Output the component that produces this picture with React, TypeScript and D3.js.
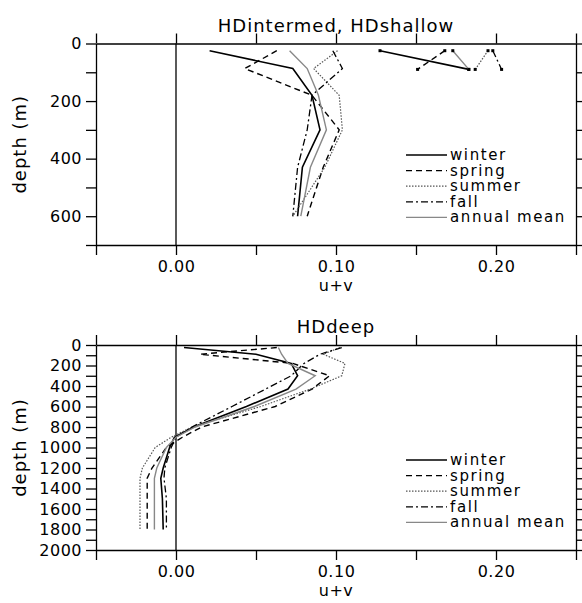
import React, { useEffect, useRef } from "react";
import * as d3 from "d3";

// series names and their drawing order
const seasons = ["winter", "spring", "summer", "fall", "annual mean"];

// HDintermed (top panel)
const intermedDepths = [25, 87, 180, 300, 430, 600];
const intermedWinter = [0.021, 0.073, 0.085, 0.09, 0.079, 0.076];
const intermedSpring = [0.063, 0.043, 0.085, 0.102, 0.092, 0.082];
const intermedSummer = [0.101, 0.086, 0.102, 0.104, 0.093, 0.073];
const intermedFall = [0.098, 0.104, 0.085, 0.082, 0.076, 0.073];
const intermedMean = [0.071, 0.082, 0.089, 0.094, 0.084, 0.078];

// HDshallow (top panel, with markers)
const shallowDepths = [25, 90];
const shallowWinter = [0.1275, 0.183];
const shallowSpring = [0.168, 0.151];
const shallowSummer = [0.195, 0.187];
const shallowFall = [0.198, 0.2035];
const shallowMean = [0.173, 0.183];

// HDdeep (bottom panel)
const deepDepths = [25, 90, 180, 300, 430, 600, 800, 900, 1000, 1200, 1300, 1500, 1800];
const deepWinter = [0.005, 0.05, 0.072, 0.076, 0.07, 0.044, 0.011, -0.001, -0.004, -0.008, -0.0095, -0.0085, -0.008];
const deepSpring = [0.063, 0.015, 0.073, 0.096, 0.085, 0.062, 0.016, 0.004, -0.006, -0.015, -0.018, -0.018, -0.018];
const deepSummer = [0.1025, 0.092, 0.1056, 0.1036, 0.084, 0.053, 0.01, -0.003, -0.013, -0.021, -0.0225, -0.0225, -0.0225];
const deepFall = [0.1036, 0.09, 0.08, 0.072, 0.056, 0.035, 0.01, 0.0, -0.003, -0.007, -0.0075, -0.006, -0.006];
const deepMean = [0.064, 0.066, 0.07, 0.087, 0.075, 0.049, 0.012, 0.0, -0.006, -0.012, -0.0135, -0.0135, -0.0135];

const xTicks = [-0.05, 0.0, 0.05, 0.1, 0.15, 0.2, 0.25];
const xLabelled = [0.0, 0.1, 0.2];

const styles = {
  winter: { stroke: "#000", width: 1.6, dash: null },
  spring: { stroke: "#000", width: 1.4, dash: "6,4" },
  summer: { stroke: "#555", width: 1.2, dash: "1.5,1.5" },
  fall: { stroke: "#000", width: 1.3, dash: "7,3,2,3" },
  "annual mean": { stroke: "#888", width: 1.4, dash: null },
};

const FONT = "'DejaVu Sans', sans-serif";

const App = () => {
  const ref = useRef(null);

  useEffect(() => {
    const svg = d3.select(ref.current);
    svg.selectAll("*").remove();

    const x = d3.scaleLinear().domain([-0.05, 0.25]).range([96, 576]);

    const drawPanel = (opts) => {
      const { top, bottom, maxDepth, title, groups } = opts;
      const y = d3.scaleLinear().domain([0, maxDepth]).range([top, bottom]);
      const g = svg.append("g");
      const fmt = d3.format(".2f");
      const isLab = (v) => xLabelled.some((l) => Math.abs(l - v) < 1e-9);
      const yTicks = d3.range(0, maxDepth + 1, 100);

      const axisStyle = (sel) => {
        sel.selectAll("path,line").attr("stroke", "#000").attr("stroke-width", 1.3);
        sel.selectAll("text").attr("font-family", FONT).attr("font-size", 16).attr("fill", "#000").style("letter-spacing", "0.5px");
      };

      g.append("g")
        .attr("transform", `translate(0,${bottom})`)
        .call(d3.axisBottom(x).tickValues(xTicks).tickSize(10).tickSizeOuter(0).tickPadding(6)
          .tickFormat((d) => (isLab(d) ? fmt(d) : "")))
        .call(axisStyle);
      g.append("g")
        .attr("transform", `translate(0,${top})`)
        .call(d3.axisTop(x).tickValues(xTicks).tickSize(10).tickSizeOuter(0).tickFormat(() => ""))
        .call(axisStyle);
      g.append("g")
        .attr("transform", `translate(96,0)`)
        .call(d3.axisLeft(y).tickValues(yTicks).tickSize(10).tickSizeOuter(0).tickPadding(4)
          .tickFormat((d) => (d % 200 === 0 ? String(d) : "")))
        .call(axisStyle);
      g.append("g")
        .attr("transform", `translate(576,0)`)
        .call(d3.axisRight(y).tickValues(yTicks).tickSize(10).tickSizeOuter(0).tickFormat(() => ""))
        .call(axisStyle);

      // zero line
      g.append("line")
        .attr("x1", x(0)).attr("x2", x(0))
        .attr("y1", top).attr("y2", bottom)
        .attr("stroke", "#000").attr("stroke-width", 1.3);

      // titles and labels
      g.append("text").attr("x", 336).attr("y", top - 12).attr("text-anchor", "middle")
        .attr("font-family", FONT).attr("font-size", 18).style("letter-spacing", "1px").text(title);
      g.append("text").attr("x", 336).attr("y", bottom + 46).attr("text-anchor", "middle")
        .attr("font-family", FONT).attr("font-size", 16).style("letter-spacing", "0.5px").text("u+v");
      g.append("text")
        .attr("transform", `translate(26,${(top + bottom) / 2}) rotate(-90)`)
        .attr("text-anchor", "middle")
        .attr("font-family", FONT).attr("font-size", 18).style("letter-spacing", "1px").text("depth (m)");

      const line = d3.line().x((d) => x(d[0])).y((d) => y(d[1]));
      groups.forEach(({ depths, series, mark }) => {
        seasons.forEach((s, i) => {
          const st = styles[s];
          const pts = series[i].map((v, j) => [v, depths[j]]);
          g.append("path")
            .datum(pts)
            .attr("d", line)
            .attr("fill", "none")
            .attr("stroke", st.stroke)
            .attr("stroke-width", st.width)
            .attr("stroke-dasharray", st.dash);
          if (mark) {
            g.selectAll(null)
              .data(pts)
              .join("rect")
              .attr("x", (d) => x(d[0]) - 1.5)
              .attr("y", (d) => y(d[1]) - 1.5)
              .attr("width", 3)
              .attr("height", 3)
              .attr("fill", "#000");
          }
        });
      });

      // legend
      const lx = 406;
      const ly = bottom - 90;
      seasons.forEach((s, i) => {
        const st = styles[s];
        const yy = ly + i * 15.6;
        g.append("line")
          .attr("x1", lx).attr("x2", lx + 41)
          .attr("y1", yy).attr("y2", yy)
          .attr("stroke", st.stroke)
          .attr("stroke-width", st.width)
          .attr("stroke-dasharray", st.dash);
        g.append("text")
          .attr("x", lx + 44).attr("y", yy + 5)
          .attr("font-family", FONT).attr("font-size", 15)
          .style("letter-spacing", "1.6px")
          .text(s);
      });
    };

    drawPanel({
      top: 43.5,
      bottom: 245,
      maxDepth: 700,
      title: "HDintermed, HDshallow",
      groups: [
        { depths: intermedDepths, series: [intermedWinter, intermedSpring, intermedSummer, intermedFall, intermedMean], mark: false },
        { depths: shallowDepths, series: [shallowWinter, shallowSpring, shallowSummer, shallowFall, shallowMean], mark: true },
      ],
    });
    drawPanel({
      top: 345,
      bottom: 550,
      maxDepth: 2000,
      title: "HDdeep",
      groups: [
        { depths: deepDepths, series: [deepWinter, deepSpring, deepSummer, deepFall, deepMean], mark: false },
      ],
    });
  });

  return (
    <svg ref={ref} width={582} height={603}
      style={{ position: "absolute", left: 0, top: 0, background: "#fff" }} />
  );
};

export default App;
